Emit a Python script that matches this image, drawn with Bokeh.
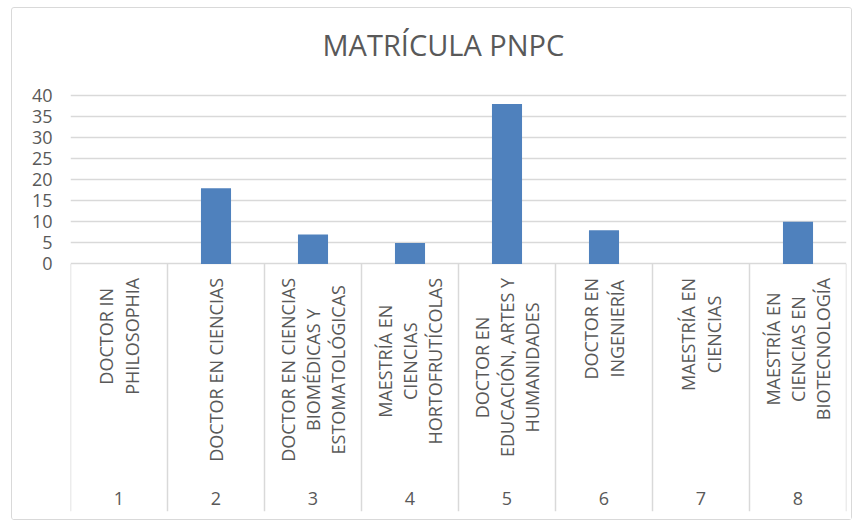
from bokeh.plotting import figure
from bokeh.models import Range1d, FixedTicker, ColumnDataSource
from bokeh.core.properties import value
from bokeh.embed import file_html
from bokeh.resources import INLINE
import math

# ---- data ----
positions = [1, 2, 3, 4, 5, 6, 7, 8]
numbers = ["1", "2", "3", "4", "5", "6", "7", "8"]
programs = [
    "DOCTOR IN\nPHILOSOPHIA",
    "DOCTOR EN CIENCIAS",
    "DOCTOR EN CIENCIAS\nBIOMÉDICAS Y\nESTOMATOLÓGICAS",
    "MAESTRÍA EN\nCIENCIAS\nHORTOFRUTÍCOLAS",
    "DOCTOR EN\nEDUCACIÓN, ARTES Y\nHUMANIDADES",
    "DOCTOR EN\nINGENIERÍA",
    "MAESTRÍA EN\nCIENCIAS",
    "MAESTRÍA EN\nCIENCIAS EN\nBIOTECNOLOGÍA",
]
matricula = [0, 18, 7, 5, 38, 8, 0, 10]
y_ticks = [0, 5, 10, 15, 20, 25, 30, 35, 40]

FONT = "Open Sans"
GRAY = "#595959"
LINE = "#d9d9d9"
BLUE = "#4F81BD"

y_bottom = -58.8
y_top = 44.05

p = figure(width=841, height=513, output_backend="svg", toolbar_location=None,
           x_range=Range1d(0.5, len(positions) + 0.5),
           y_range=Range1d(y_bottom, y_top),
           min_border_left=58, min_border_right=7, min_border_top=0, min_border_bottom=10)

p.styles = {"border": "1.5px solid #d9d9d9", "border-radius": "3px",
            "margin-left": "11px", "margin-top": "7px"}
p.outline_line_color = None
p.background_fill_color = "white"
p.border_fill_color = "white"

p.title.text = "MATRÍCULA PNPC"
p.title.align = "left"
p.title.offset = 252
p.title.text_font = FONT
p.title.text_font_size = "29px"
p.title.text_font_style = "normal"
p.title.text_color = GRAY
p.title.standoff = 29

# x axis hidden; category block drawn as glyphs
p.xaxis.visible = False
p.xgrid.visible = False

yax = p.yaxis[0]
yax.ticker = FixedTicker(ticks=y_ticks)
yax.axis_line_color = None
yax.major_tick_line_color = None
yax.minor_tick_line_color = None
yax.major_tick_out = 0
yax.major_tick_in = 0
yax.major_label_standoff = 18
yax.major_label_text_font = FONT
yax.major_label_text_font_size = "18px"
yax.major_label_text_color = GRAY

p.ygrid.ticker = FixedTicker(ticks=y_ticks)
p.ygrid.grid_line_color = LINE
p.ygrid.grid_line_width = 1.3

# category separators
bounds = [i + 0.5 for i in range(len(positions) + 1)]
p.segment(x0=bounds, y0=[0] * len(bounds), x1=bounds, y1=[y_bottom] * len(bounds),
          line_color=LINE, line_width=1.5)

# bars
src = ColumnDataSource(dict(x=positions, top=matricula, prog=programs, num=numbers))
p.vbar(x="x", top="top", bottom=0, width=0.31, source=src, fill_color=BLUE, line_color=None)

# rotated program labels
p.text(x="x", y=-3.3, text="prog", source=src, angle=math.pi / 2,
       anchor="center_right", text_align="center",
       text_font=value(FONT), text_font_size="18px", text_color=GRAY,
       text_line_height=1.06)

# number labels
p.text(x="x", y=-55.7, text="num", source=src, text_align="center",
       text_baseline="middle", text_font=value(FONT), text_font_size="18px",
       text_color=GRAY)

open("out.html", "w").write(file_html(p, INLINE))
